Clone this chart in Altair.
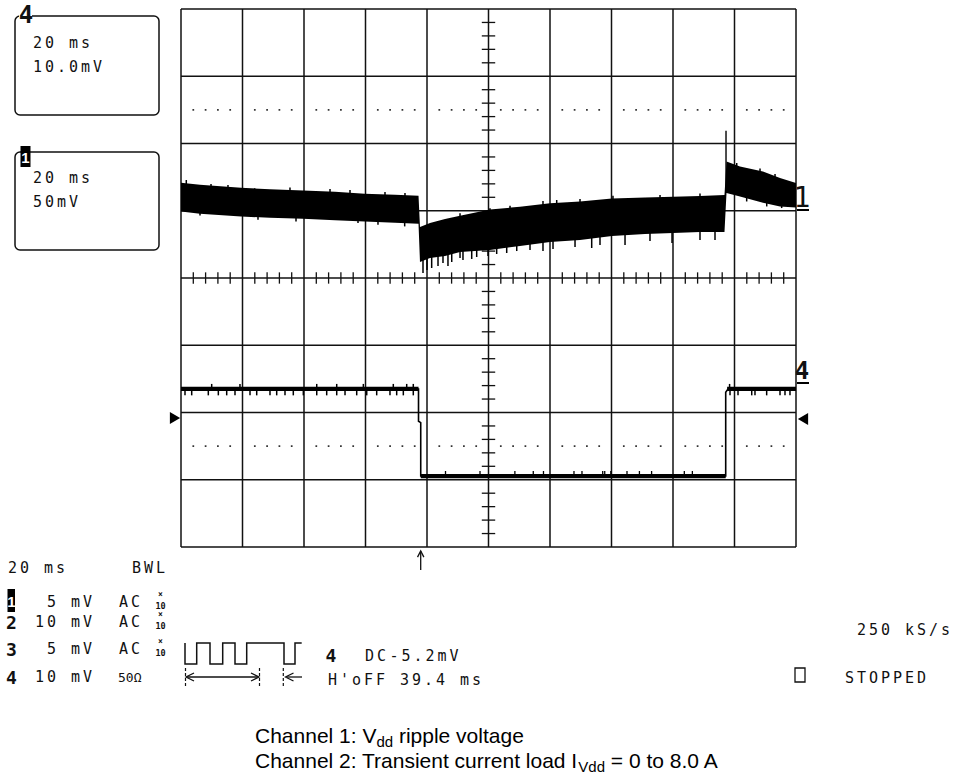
import altair as alt
import pandas as pd

# ================= DATA (unit = one screen division) =================
# horizontal: 10 divisions of 20 ms, vertical: 8 divisions, 0 at the screen centre
grid_x = list(range(0, 11))
grid_y = list(range(-4, 5))
dot_rows = [2.5, -2.5]

# Channel 1 (Vdd ripple): envelope of the noisy trace
ch1_t = [0.0, 0.309, 0.976, 1.447, 1.984, 2.504, 2.987, 3.480, 3.862,
         3.886, 4.049, 4.293, 4.537, 5.024, 5.512, 6.0, 6.488, 7.008, 7.545, 8.0, 8.439, 8.837,
         8.870, 9.089, 9.463, 9.740, 10.0]
ch1_hi = [1.416, 1.387, 1.342, 1.320, 1.302, 1.283, 1.253, 1.238, 1.223,
          0.758, 0.818, 0.877, 0.926, 1.019, 1.060, 1.111, 1.138, 1.182, 1.197, 1.209, 1.219, 1.234,
          1.733, 1.659, 1.584, 1.486, 1.412]
ch1_lo = [0.990, 0.955, 0.915, 0.896, 0.881, 0.859, 0.841, 0.822, 0.807,
          0.238, 0.297, 0.327, 0.387, 0.416, 0.476, 0.535, 0.565, 0.625, 0.654, 0.669, 0.684, 0.684,
          1.263, 1.213, 1.119, 1.064, 1.049]
# noise spikes sticking out of the envelope (time, tip level)
ch1_up_t = [0.086, 0.488, 0.764, 1.198, 1.772, 2.423, 2.748, 3.317, 3.642,
            4.537, 5.024, 5.350, 5.886, 6.109, 6.488, 7.024, 7.789, 8.439,
            9.036, 9.415, 9.659]
ch1_up_v = [1.457, 1.398, 1.383, 1.334, 1.346, 1.323, 1.309, 1.279, 1.264,
            0.962, 1.036, 1.075, 1.145, 1.160, 1.175, 1.224, 1.234, 1.257,
            1.710, 1.628, 1.546]
ch1_dn_t = [0.309, 1.252, 1.870, 2.878, 3.203, 3.637,
            3.935, 4.000, 4.076, 4.179, 4.260, 4.341, 4.402, 4.537, 4.585, 4.727, 4.808, 4.992,
            5.133, 5.296, 5.459, 5.675, 5.886, 6.049, 6.407, 6.678, 6.813, 7.220, 7.626, 7.984,
            8.439, 8.683, 9.198, 9.524, 9.767]
ch1_dn_v = [0.930, 0.866, 0.841, 0.817, 0.792, 0.767,
            0.074, 0.119, 0.149, 0.178, 0.223, 0.178, 0.238, 0.297, 0.268, 0.283, 0.312, 0.327,
            0.357, 0.372, 0.401, 0.416, 0.401, 0.431, 0.461, 0.446, 0.491, 0.491, 0.550, 0.520,
            0.565, 0.565, 1.138, 1.064, 1.040]
ch1_glitch_t = [8.862]
ch1_glitch_v = [2.19]

# Channel 4 (load step)
ch4_t = [0.0, 3.862, 3.862, 3.898, 3.898, 8.857, 8.857, 8.894, 10.0]
ch4_v = [-1.65, -1.65, -2.13, -2.15, -2.945, -2.945, -1.70, -1.65, -1.65]
ch4_lvl_t0 = [0.0, 3.898, 8.880]
ch4_lvl_t1 = [3.862, 8.857, 10.0]
ch4_lvl_v = [-1.65, -2.945, -1.65]
ch4_dn_t = [0.065, 0.174, 0.444, 0.607, 0.743, 0.878, 1.122, 1.231, 1.447, 1.556, 1.691, 1.826,
            1.989, 2.207, 2.369, 2.532, 2.667, 2.857, 3.020, 3.182, 3.398, 3.507, 3.615, 3.777,
            8.927, 9.057, 9.280, 9.333, 9.523, 9.740, 9.821, 9.902]
ch4_up_t = [0.499, 0.959, 2.207, 2.532, 2.965, 3.452, 3.670, 3.777, 8.92]
ch4_low_up_t = [4.301, 4.862, 5.429, 5.728, 5.894, 6.390, 6.520, 6.857, 6.890, 6.989,
                7.252, 7.454, 7.652, 8.184, 8.315]

# Screen texts
box4_label = "4"
box4_lines = ["20 ms", "10.0mV"]
box1_label = "1"
box1_lines = ["20 ms", "50mV"]
timebase_txt = "20 ms"
bwl_txt = "BWL"
chan_ids = ["1", "2", "3", "4"]
chan_volts = ["5 mV", "10 mV", "5 mV", "10 mV"]
chan_coupl = ["AC", "AC", "AC", "50Ω"]
probe_top = "×"
probe_bot = "10"
trig_src = "4"
trig_cpl = "DC"
trig_lvl = "-5.2mV"
holdoff_txt = "H'oFF 39.4 ms"
rate_txt = "250 kS/s"
state_txt = "STOPPED"
marker_1 = "1"
marker_4 = "4"
caption_1 = ["Channel 1: V", "dd", " ripple voltage"]
caption_2 = ["Channel 2: Transient current load I", "Vdd", " = 0 to 8.0 A"]

# ================= LAYOUT =================
INK = "#111111"
MONO = "DejaVu Sans Mono"
SANS = "Liberation Sans"


def X(px):
    return (px - 181.0) / 61.5


def Y(py):
    return (278.0 - py) / 67.25


XS = alt.Scale(domain=[0, 10], nice=False, zero=False)
YS = alt.Scale(domain=[-4, 4], nice=False, zero=False)


def ex(f="x"):
    return alt.X(f"{f}:Q", scale=XS, axis=None)


def ey(f="y"):
    return alt.Y(f"{f}:Q", scale=YS, axis=None)


layers = []


def vrules(df, width=1.5, color=INK, dash=None):
    kw = dict(color=color, strokeWidth=width)
    if dash:
        kw["strokeDash"] = dash
    return alt.Chart(df).mark_rule(**kw).encode(x=ex(), y=ey(), y2="y2:Q")


def hrules(df, width=1.5, color=INK, cap="butt"):
    return alt.Chart(df).mark_rule(color=color, strokeWidth=width, strokeCap=cap).encode(
        x=ex(), x2="x2:Q", y=ey())


def rects(df, **kw):
    return alt.Chart(df).mark_rect(**kw).encode(x=ex(), x2="x2:Q", y=ey(), y2="y2:Q")


# ---- graticule
layers.append(vrules(pd.DataFrame({"x": grid_x, "y": -4.0, "y2": 4.0})))
layers.append(hrules(pd.DataFrame({"y": grid_y, "x": 0.0, "x2": 10.0})))
minor_x = [k / 5 for k in range(1, 50) if k % 5]
minor_y = [k / 5 for k in range(-19, 20) if k % 5]
layers.append(vrules(pd.DataFrame({"x": minor_x, "y": -0.084, "y2": 0.084}), width=1.3))
layers.append(hrules(pd.DataFrame({"y": minor_y, "x": 5 - 0.109, "x2": 5 + 0.109}), width=1.3))
dots = pd.DataFrame([{"x": i + k / 5, "y": r} for r in dot_rows for i in range(10) for k in range(1, 5)])
layers.append(alt.Chart(dots).mark_square(size=3, color="#333333", opacity=1).encode(x=ex(), y=ey()))

# ---- channel 1 trace
ch1 = pd.DataFrame({"x": ch1_t, "hi": ch1_hi, "lo": ch1_lo})
layers.append(alt.Chart(ch1).mark_area(color="black", opacity=1, interpolate="linear").encode(
    x=ex(), y=ey("hi"), y2="lo:Q"))


def anchor(t):
    return 1.0 if t < 3.87 else (0.7 if t < 8.85 else 1.3)


sp = pd.DataFrame({"x": ch1_up_t + ch1_dn_t,
                   "y": ch1_up_v + ch1_dn_v,
                   "y2": [anchor(t) for t in ch1_up_t + ch1_dn_t]})
layers.append(vrules(sp, width=1.5, color="black"))
gl = pd.DataFrame({"x": ch1_glitch_t, "y": ch1_glitch_v, "y2": [1.3]})
layers.append(vrules(gl, width=1.4, color="black"))

# ---- channel 4 trace
ch4 = pd.DataFrame({"x": ch4_t, "y": ch4_v, "i": list(range(len(ch4_t)))})
layers.append(alt.Chart(ch4).mark_line(color="black", strokeWidth=1.6).encode(
    x=ex(), y=ey(), order="i:Q"))
lv = pd.DataFrame({"x": ch4_lvl_t0, "x2": ch4_lvl_t1, "y": ch4_lvl_v})
layers.append(hrules(lv, width=4.2, color="black"))
tk = pd.DataFrame({"x": ch4_dn_t, "y": -1.65, "y2": -1.745})
layers.append(vrules(tk, width=1.5, color="black"))
tk2 = pd.DataFrame({"x": ch4_up_t, "y": -1.65, "y2": -1.575})
layers.append(vrules(tk2, width=1.5, color="black"))
tk3 = pd.DataFrame({"x": ch4_low_up_t, "y": -2.945, "y2": -2.87})
layers.append(vrules(tk3, width=1.3, color="black"))

# ---- reference markers
tri = pd.DataFrame({"x": [X(175)], "y": [Y(418)]})
layers.append(alt.Chart(tri).mark_point(shape="triangle-right", filled=True, size=140, color="black",
                                        opacity=1).encode(x=ex(), y=ey()))
tri2 = pd.DataFrame({"x": [X(803)], "y": [Y(419)]})
layers.append(alt.Chart(tri2).mark_point(shape="triangle-left", filled=True, size=140, color="black",
                                         opacity=1).encode(x=ex(), y=ey()))
ul = pd.DataFrame({"x": [X(797), X(797)], "x2": [X(809), X(809)], "y": [Y(210), Y(383)]})
layers.append(hrules(ul, width=2, color="black"))

# trigger position arrow below the grid
layers.append(vrules(pd.DataFrame({"x": [X(420.7)], "y": [Y(551)], "y2": [Y(570)]}), width=1.3))
layers.append(alt.Chart(pd.DataFrame({"x": [X(420.7)], "y": [Y(554)]})).mark_point(
    shape="M-1,1L0,-1L1,1", filled=False, size=40, color=INK, strokeWidth=1.3, opacity=1).encode(
    x=ex(), y=ey()))

# ---- boxes top left
boxes = pd.DataFrame({"x": [X(15), X(15)], "x2": [X(159), X(159)],
                      "y": [Y(16), Y(152)], "y2": [Y(115), Y(250)]})
layers.append(rects(boxes, cornerRadius=5, fill="white", stroke=INK, strokeWidth=1.5))
patch = pd.DataFrame({"x": [X(19)], "x2": [X(32)], "y": [Y(10)], "y2": [Y(21)]})
layers.append(rects(patch, fill="white"))
inv = pd.DataFrame({"x": [X(20.5), X(7.5)], "x2": [X(30.5), X(15)],
                    "y": [Y(146), Y(589)], "y2": [Y(167), Y(612)]})
layers.append(rects(inv, fill="black"))
# stopped indicator square
sq = pd.DataFrame({"x": [X(795)], "x2": [X(805)], "y": [Y(668)], "y2": [Y(682)]})
layers.append(rects(sq, fill="white", stroke=INK, strokeWidth=1.3))

# ---- pulse pictogram and hold-off arrows
pulse_px = [(185, 643), (185, 664), (196.7, 664), (196.7, 643), (210, 643), (210, 664), (222.7, 664),
            (222.7, 643), (235, 643), (235, 664), (246.7, 664), (246.7, 643), (284, 643), (284, 664),
            (295, 664), (295, 643), (301.7, 643)]
pulse = pd.DataFrame({"x": [X(a) for a, b in pulse_px], "y": [Y(b) for a, b in pulse_px],
                      "i": list(range(len(pulse_px)))})
layers.append(alt.Chart(pulse).mark_line(color=INK, strokeWidth=1.5).encode(x=ex(), y=ey(), order="i:Q"))
layers.append(vrules(pd.DataFrame({"x": [X(185.5), X(259.5), X(283.3)], "y": Y(668), "y2": Y(688)}),
                     width=1.2, dash=[3, 2]))
layers.append(hrules(pd.DataFrame({"x": [X(187), X(287)], "x2": [X(258), X(302)], "y": Y(677)}), width=1.3))
arrL = pd.DataFrame({"x": [X(190), X(289.5)], "y": [Y(677), Y(677)]})
layers.append(alt.Chart(arrL).mark_point(shape="M1,-1L-1,0L1,1", filled=False, size=64, color=INK,
                                         strokeWidth=1.3, opacity=1).encode(x=ex(), y=ey()))
arrR = pd.DataFrame({"x": [X(255)], "y": [Y(677)]})
layers.append(alt.Chart(arrR).mark_point(shape="M-1,-1L1,0L-1,1", filled=False, size=64, color=INK,
                                         strokeWidth=1.3, opacity=1).encode(x=ex(), y=ey()))


# ---- scope character text, laid out on a 12 px character pitch
def chars(s, px, py, pitch=12.0):
    out = []
    for i, c in enumerate(s):
        if c != " ":
            out.append({"x": X(px + 4.5 + i * pitch), "y": Y(py), "t": c})
    return out


def texts(rows, **kw):
    base = dict(align="center", baseline="alphabetic", color=INK, font=MONO)
    base.update(kw)
    return alt.Chart(pd.DataFrame(rows)).mark_text(**base).encode(x=ex(), y=ey(), text="t:N")


reg = []
reg += chars(box4_lines[0], 33, 48) + chars(box4_lines[1], 33, 72)
reg += chars(box1_lines[0], 33, 183) + chars(box1_lines[1], 33, 207)
reg += chars(timebase_txt, 8, 573) + chars(bwl_txt, 132, 573)
row_base = [607, 627, 654, 682]
for k in range(4):
    v = chan_volts[k]
    reg += chars(v, 47 - 12 * (len(v) - 4), row_base[k])
    if chan_coupl[k] == "AC":
        reg += chars(chan_coupl[k], 119, row_base[k])
reg += chars(trig_cpl, 365, 661) + chars(trig_lvl, 389.5, 661)
reg += chars(holdoff_txt, 328, 685)
reg += chars(rate_txt, 857, 635)
reg += chars(state_txt, 845, 683)
layers.append(texts(reg, fontSize=15))

# 50 ohm (narrow)
layers.append(texts([{"x": X(118), "y": Y(682), "t": chan_coupl[3]}], fontSize=13, align="left"))

# probe attenuation marks (stacked x over 10)
pa_top = [{"x": X(160.5), "y": Y(row_base[k] - 10), "t": probe_top} for k in range(3)]
pa_bot = [{"x": X(160.5), "y": Y(row_base[k] + 2), "t": probe_bot} for k in range(3)]
layers.append(texts(pa_top, fontSize=8, fontWeight="bold"))
layers.append(texts(pa_bot, fontSize=8.5, fontWeight="bold"))

# bold channel numbers
bold = [{"x": X(11.5), "y": Y(row_base[k] + 2), "t": chan_ids[k]} for k in (1, 2, 3)]
bold.append({"x": X(331), "y": Y(662), "t": trig_src})
layers.append(texts(bold, fontSize=18, fontWeight="bold"))
big = [{"x": X(26), "y": Y(23), "t": box4_label}, {"x": X(802), "y": Y(378.5), "t": marker_4}]
layers.append(texts(big, fontSize=24, fontWeight="bold"))
layers.append(texts([{"x": X(802), "y": Y(207), "t": marker_1}], fontSize=28))
white = [{"x": X(25.5), "y": Y(163), "t": box1_label}, {"x": X(11.3), "y": Y(607), "t": chan_ids[0]}]
layers.append(texts(white, fontSize=15, fontWeight="bold", color="white", font="Liberation Sans"))

# ---- caption (Arial-metric text with subscripts)
AW = {"C": 722, "h": 556, "a": 556, "n": 556, "e": 556, "l": 222, " ": 278, "1": 556, "2": 556,
      ":": 278, "V": 667, "d": 556, "r": 333, "i": 222, "p": 556, "v": 500, "o": 556, "t": 278,
      "g": 556, "T": 611, "s": 500, "c": 500, "u": 556, "I": 278, "=": 584, "0": 556, "8": 556,
      ".": 278, "A": 667}


def tw(s, size):
    return sum(AW.get(c, 556) for c in s) * size / 1000.0


cap_rows = []
for pieces, base in ((caption_1, 743), (caption_2, 768)):
    px = 255.0
    for j, p in enumerate(pieces):
        size = 21 if j != 1 else 15
        dy = 0 if j != 1 else 4
        lead = len(p) - len(p.lstrip(" "))
        cap_rows.append({"x": X(px + tw(" " * lead, size)), "y": Y(base + dy), "t": p.strip(), "s": size})
        px += tw(p, size)
capdf = pd.DataFrame(cap_rows)
layers.append(texts(capdf[capdf.s == 21].to_dict("records"), font=SANS, fontSize=21, align="left",
                    color="black"))
layers.append(texts(capdf[capdf.s == 15].to_dict("records"), font=SANS, fontSize=15, align="left",
                    color="black"))

chart = alt.layer(*layers).properties(
    width=615, height=538,
    padding={"left": 181, "top": 9, "right": 162, "bottom": 229},
    autosize="none",
    background="white",
).configure_view(stroke=None)

chart.save("out.html", embed_options={"renderer": "svg", "actions": False})
